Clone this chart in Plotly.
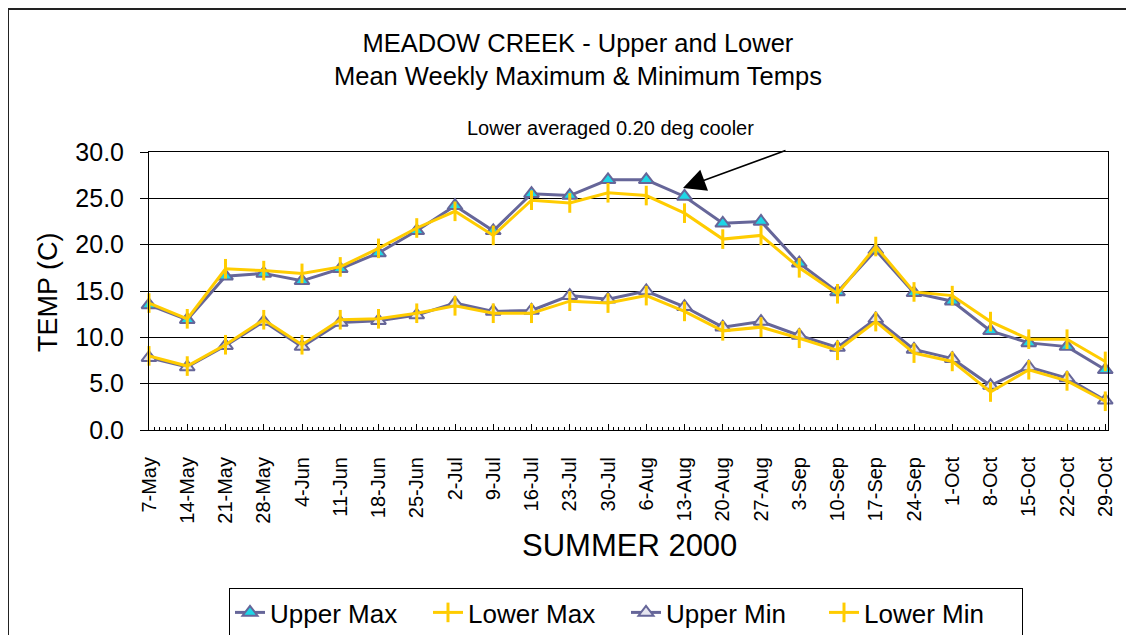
import plotly.graph_objects as go

dates = ["2000-05-07", "2000-05-14", "2000-05-21", "2000-05-28", "2000-06-04", "2000-06-11",
         "2000-06-18", "2000-06-25", "2000-07-02", "2000-07-09", "2000-07-16", "2000-07-23",
         "2000-07-30", "2000-08-06", "2000-08-13", "2000-08-20", "2000-08-27", "2000-09-03",
         "2000-09-10", "2000-09-17", "2000-09-24", "2000-10-01", "2000-10-08", "2000-10-15",
         "2000-10-22", "2000-10-29"]

upper_max = [13.5, 11.9, 16.6, 16.9, 16.1, 17.4, 19.1, 21.5, 24.2, 21.5, 25.5, 25.3, 27.0,
             27.0, 25.2, 22.3, 22.5, 18.0, 14.9, 19.4, 14.8, 13.9, 10.7, 9.4, 9.0, 6.5]
lower_max = [13.7, 12.0, 17.4, 17.2, 16.9, 17.6, 19.6, 21.8, 23.6, 21.0, 24.8, 24.5, 25.6,
             25.3, 23.4, 20.6, 21.0, 17.5, 14.7, 19.8, 14.9, 14.5, 11.7, 9.8, 9.8, 7.4]
upper_min = [7.8, 6.8, 9.1, 11.7, 9.0, 11.6, 11.8, 12.4, 13.7, 12.8, 12.9, 14.5, 14.1,
             15.0, 13.3, 11.1, 11.7, 10.2, 8.9, 12.0, 8.7, 7.7, 4.8, 6.8, 5.6, 3.2]
lower_min = [8.0, 6.9, 9.2, 11.9, 9.2, 11.9, 12.0, 12.6, 13.4, 12.6, 12.6, 13.9, 13.7,
             14.5, 12.8, 10.7, 11.1, 9.9, 8.6, 11.7, 8.3, 7.4, 4.1, 6.5, 5.3, 3.1]

title_text = "MEADOW CREEK - Upper and Lower<br>Mean Weekly Maximum & Minimum Temps"
note_text = "Lower averaged 0.20 deg cooler"
x_title = "SUMMER 2000"
y_title = "TEMP (C)"

PURPLE = "#666699"
YELLOW = "#FFCC00"
CYAN = "#1ED6E6"
FONT = "Liberation Sans, Arial, sans-serif"

# page offset (default body margin of the html page)
OFF = 8
# target plot-area edges in page pixels
L, R, T, B = 149, 1108, 152, 430
W, H = 1134 - OFF, 635 - OFF
def px(x):
    return (x - L) / (R - L)
def py(y):
    return (B - y) / (B - T)

fig = go.Figure()
fig.add_trace(go.Scatter(x=dates, y=upper_max, name="Upper Max", mode="lines+markers",
                         line=dict(color=PURPLE, width=3), cliponaxis=False,
                         marker=dict(symbol="triangle-up", size=13, color=CYAN,
                                     line=dict(color=PURPLE, width=2))))
fig.add_trace(go.Scatter(x=dates, y=lower_max, name="Lower Max", mode="lines+markers",
                         line=dict(color=YELLOW, width=3), cliponaxis=False,
                         marker=dict(symbol="line-ns", size=14, color=YELLOW,
                                     line=dict(color=YELLOW, width=3))))
fig.add_trace(go.Scatter(x=dates, y=upper_min, name="Upper Min", mode="lines+markers",
                         line=dict(color=PURPLE, width=3), cliponaxis=False,
                         marker=dict(symbol="triangle-up", size=13, color="#E6E6F0",
                                     line=dict(color=PURPLE, width=2))))
fig.add_trace(go.Scatter(x=dates, y=lower_min, name="Lower Min", mode="lines+markers",
                         line=dict(color=YELLOW, width=3), cliponaxis=False,
                         marker=dict(symbol="line-ns", size=14, color=YELLOW,
                                     line=dict(color=YELLOW, width=3))))

fig.update_layout(
    width=W, height=H,
    margin=dict(l=L - OFF, r=W - (R - OFF), t=T - OFF, b=H - (B - OFF), pad=0,
                autoexpand=False),
    paper_bgcolor="white", plot_bgcolor="white",
    font=dict(family=FONT, color="black"),
    showlegend=True,
    legend=dict(orientation="h", x=px(229), y=py(588), xanchor="left", yanchor="top",
                font=dict(size=26, family=FONT), bordercolor="black", borderwidth=1,
                bgcolor="white", traceorder="normal", itemwidth=30,
                entrywidth=153, entrywidthmode="pixels"),
    xaxis=dict(type="date", range=["2000-05-07", "2000-10-29 12:00"],
               tick0="2000-05-07", dtick=7 * 86400000, tickformat="%-d-%b",
               tickangle=-90, tickfont=dict(size=20, family=FONT),
               ticks="inside", ticklen=6, tickcolor="black", tickwidth=1,
               minor=dict(dtick=86400000, ticks="inside", ticklen=3, tickcolor="black"),
               showline=True, linecolor="black", linewidth=1, mirror=True,
               showgrid=False, zeroline=False, ticklabelstandoff=18, automargin=False),
    yaxis=dict(range=[0, 30], dtick=5, tickformat=".1f",
               tickfont=dict(size=25, family=FONT),
               ticks="outside", ticklen=8, tickcolor="black", tickwidth=1,
               showline=True, linecolor="black", linewidth=1, mirror=True,
               showgrid=True, gridcolor="black", gridwidth=1, zeroline=False,
               ticklabelstandoff=11, automargin=False),
)

fig.add_annotation(text=title_text, xref="paper", yref="paper", x=px(578), y=py(59),
                   xanchor="center", yanchor="middle", showarrow=False,
                   font=dict(size=25.5, family=FONT, color="black"))
fig.add_annotation(text=note_text, xref="paper", yref="paper", x=px(610), y=py(128),
                   xanchor="center", yanchor="middle", showarrow=False,
                   font=dict(size=20, family=FONT, color="black"))
fig.add_annotation(text="", xref="paper", yref="paper", x=px(683), y=py(188),
                   ax=787 - 683, ay=150 - 188, showarrow=True, arrowhead=2,
                   arrowsize=3, arrowwidth=1.5, arrowcolor="black", standoff=0)
fig.add_annotation(text=x_title, xref="paper", yref="paper", x=px(629), y=py(545),
                   xanchor="center", yanchor="middle", showarrow=False,
                   font=dict(size=31, family=FONT, color="black"))
fig.add_annotation(text=y_title, xref="paper", yref="paper", x=px(48), y=py(292),
                   xanchor="center", yanchor="middle", showarrow=False, textangle=-90,
                   font=dict(size=27, family=FONT, color="black"))

fig.add_shape(type="rect", xref="paper", yref="paper",
              x0=px(8), x1=px(1150), y0=py(660), y1=py(9),
              line=dict(color="#222222", width=2), layer="below")

fig.write_html("out.html")
